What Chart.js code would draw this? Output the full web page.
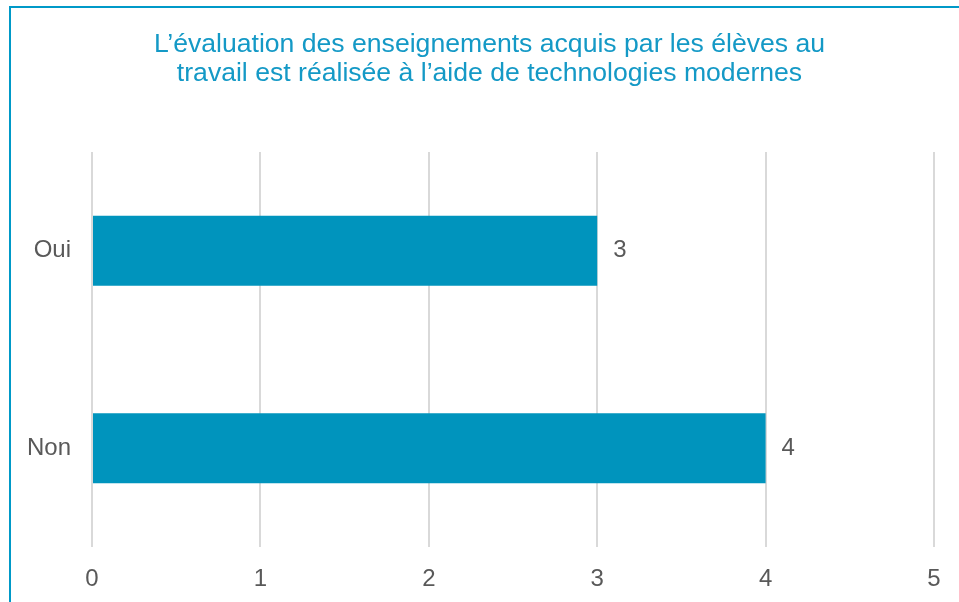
<!DOCTYPE html>
<html>
<head>
<meta charset="utf-8">
<script src="https://cdn.jsdelivr.net/npm/chart.js@4/dist/chart.umd.min.js"></script>
<style>
  html, body { margin: 0; padding: 0; background: #fff; }
  #wrap { position: relative; width: 959px; height: 602px; }
</style>
</head>
<body>
<div id="wrap"><canvas id="chart" width="959" height="602"></canvas></div>
<script>
var titleLines = ["L\u2019évaluation des enseignements acquis par les élèves au", "travail est réalisée à l\u2019aide de technologies modernes"];
var categories = ["Oui", "Non"];
var values = [3, 4];
var xTicks = [0, 1, 2, 3, 4, 5];

var barColor = "#0094bd";
var textGray = "#595959";
var fontFam = "'Liberation Sans', Arial, sans-serif";

// frame lines (top + left only, as in the original export) and the title,
// which sits a bit right of the canvas centre so it is drawn by hand
var framePlugin = {
    id: "frame",
    beforeDraw: function (chart) {
        var c = chart.ctx;
        c.save();
        c.fillStyle = "#fff";
        c.fillRect(0, 0, chart.width, chart.height);
        c.strokeStyle = "#0099c8";
        c.lineWidth = 2;
        c.beginPath();
        c.moveTo(10, chart.height);
        c.lineTo(10, 7);
        c.lineTo(chart.width, 7);
        c.stroke();

        c.fillStyle = "#1499c6";
        c.font = "26.6px " + fontFam;
        c.textAlign = "center";
        c.textBaseline = "middle";
        for (var i = 0; i < titleLines.length; i++)
            c.fillText(titleLines[i], 489.5, 45 + i * 29);
        c.restore();
    }
};

// value labels to the right of each bar
var labelPlugin = {
    id: "valueLabels",
    afterDatasetsDraw: function (chart) {
        var c = chart.ctx;
        var meta = chart.getDatasetMeta(0);
        c.save();
        c.font = "24px " + fontFam;
        c.fillStyle = textGray;
        c.textAlign = "left";
        c.textBaseline = "middle";
        meta.data.forEach(function (bar, i) {
            c.fillText(String(values[i]), bar.x + 16, bar.y);
        });
        c.restore();
    }
};

new Chart(document.getElementById("chart"), {
    type: "bar",
    data: {
        labels: categories,
        datasets: [{
            data: values,
            backgroundColor: barColor,
            borderWidth: 0,
            barPercentage: 0.71,
            categoryPercentage: 0.5
        }]
    },
    options: {
        indexAxis: "y",
        responsive: false,
        animation: false,
        layout: { padding: { left: 0, right: 25, top: 152, bottom: 0 } },
        plugins: {
            legend: { display: false },
            tooltip: { enabled: false },
            title: { display: false }
        },
        scales: {
            x: {
                min: 0,
                max: 5,
                afterBuildTicks: function (scale) {
                    scale.ticks = xTicks.map(function (v) { return { value: v }; });
                },
                afterFit: function (scale) { scale.height = 55; },
                grid: { color: "#d9d9d9", lineWidth: 2, drawTicks: false },
                border: { display: false },
                ticks: {
                    padding: 18,
                    color: textGray,
                    font: { family: fontFam, size: 24 }
                }
            },
            y: {
                afterFit: function (scale) { scale.width = 92; },
                grid: { display: false, drawTicks: false },
                border: { display: false },
                ticks: {
                    padding: 21,
                    color: textGray,
                    font: { family: fontFam, size: 24 }
                }
            }
        }
    },
    plugins: [framePlugin, labelPlugin]
});
</script>
</body>
</html>
